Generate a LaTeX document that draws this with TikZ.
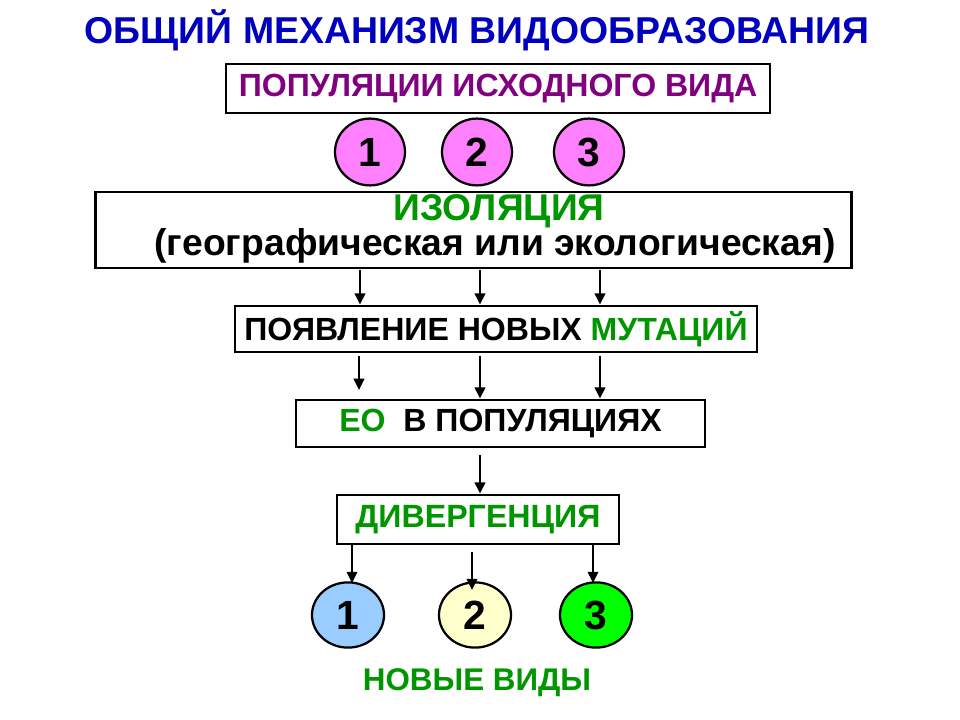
\documentclass[tikz,border=0pt]{standalone}
\usepackage{fontspec}
\setmainfont{Liberation Sans}[BoldFont={* Bold}]
\definecolor{titleblue}{RGB}{0,0,190}
\definecolor{popviolet}{RGB}{128,0,128}
\definecolor{textgreen}{RGB}{0,150,0}
\definecolor{pinkfill}{RGB}{255,128,255}
\definecolor{bluefill}{RGB}{153,204,255}
\definecolor{creamfill}{RGB}{255,255,204}
\definecolor{greenfill}{RGB}{0,255,0}
\tikzset{
  stagebox/.style={draw,line width=2pt,fill=white,inner sep=0pt,align=center,font=\bfseries},
  popcirc/.style={ellipse,draw,line width=1.6pt,minimum width=1.75cm,minimum height=1.67cm,inner sep=0pt,font=\bfseries\fontsize{29}{29}\selectfont},
  flow/.style={-{Triangle[length=8pt,width=7.5pt]},line width=1.6pt}
}
\usetikzlibrary{shapes.geometric,arrows.meta}
\begin{document}
\begin{tikzpicture}[x=0.025cm,y=-0.025cm]
\useasboundingbox(0,0)rectangle(960,720);
%title
\node[font=\bfseries\fontsize{26.6}{28}\selectfont,text=titleblue](title)at(477,30){ОБЩИЙ МЕХАНИЗМ ВИДООБРАЗОВАНИЯ};
%initial populations
\node[stagebox,minimum width=13.6cm,minimum height=1.225cm,text=popviolet,font=\bfseries\fontsize{22.8}{24}\selectfont](pop)at(498,88.5){ПОПУЛЯЦИИ ИСХОДНОГО ВИДА};
\node[popcirc,fill=pinkfill](p1)at(370,152){1};
\node[popcirc,fill=pinkfill](p2)at(477,152){2};
\node[popcirc,fill=pinkfill](p3)at(589,152){3};
%isolation
\node[stagebox,minimum width=18.875cm,minimum height=1.9cm](iso)at(473.5,230){};
\node[inner sep=0pt,font=\bfseries\fontsize{26.5}{28}\selectfont,text=textgreen](isoA)at(499,211){ИЗОЛЯЦИЯ};
\node[inner sep=0pt,font=\bfseries\fontsize{26.5}{28}\selectfont](isoB)at(495,246){(географическая или экологическая)};
%mutations
\node[stagebox,minimum width=13.05cm,minimum height=1.15cm,font=\bfseries\fontsize{22.8}{24}\selectfont](mut)at(496,329){ПОЯВЛЕНИЕ НОВЫХ \textcolor{textgreen}{МУТАЦИЙ}};
\coordinate(m1)at(360,270);\coordinate(m2)at(480,270);\coordinate(m3)at(600,270);
\foreach \i in {1,2,3}\draw[flow](m\i)--(m\i|-mut.north);
%EO
\node[stagebox,minimum width=10.225cm,minimum height=1.175cm,font=\bfseries\fontsize{22.8}{24}\selectfont](eo)at(500.5,423.5){\textcolor{textgreen}{ЕО}\ \ В ПОПУЛЯЦИЯХ};
\coordinate(e1)at(359,356);\coordinate(e2)at(480,356);\coordinate(e3)at(600,356);
\draw[flow](e1)--++(0,34);
\draw[flow](e2)--(e2|-eo.north);
\draw[flow](e3)--(e3|-eo.north);
%divergence
\node[stagebox,minimum width=7.05cm,minimum height=1.225cm,text=textgreen,font=\bfseries\fontsize{22.9}{24}\selectfont](div)at(478,519.5){ДИВЕРГЕНЦИЯ};
\coordinate(d0)at(480,455);
\draw[flow](d0)--(d0|-div.north);
%new species
\node[popcirc,minimum width=1.8cm,minimum height=1.63cm,fill=bluefill](n1)at(348,615){1};
\node[popcirc,minimum width=1.8cm,minimum height=1.63cm,fill=creamfill](n2)at(475,615){2};
\node[popcirc,minimum width=1.8cm,minimum height=1.63cm,fill=greenfill](n3)at(596,615){3};
\coordinate(d1)at(352,545);\coordinate(d2)at(472,552);\coordinate(d3)at(593,545);
\foreach \i in {1,2,3}\draw[flow](d\i)--++(0,38);
\node[font=\bfseries\fontsize{22.3}{24}\selectfont,text=textgreen](newsp)at(477,683){НОВЫЕ ВИДЫ};
\end{tikzpicture}
\end{document}
